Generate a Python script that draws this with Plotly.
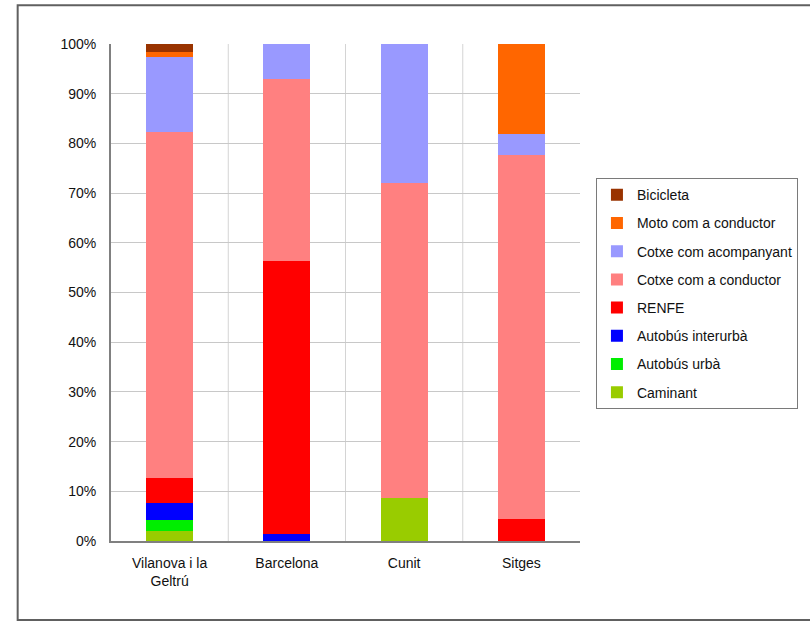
import plotly.graph_objects as go

# Municipalities (categories on the x axis)
municipis = ["Vilanova i la<br>Geltrú", "Barcelona", "Cunit", "Sitges"]

# Share of each transport mode per municipality (%), bottom to top of the stack
caminant = [2.0, 0.0, 8.6, 0.0]
autobus_urba = [2.2, 0.0, 0.0, 0.0]
autobus_interurba = [3.4, 1.5, 0.0, 0.0]
renfe = [5.1, 54.8, 0.0, 4.4]
cotxe_conductor = [69.6, 36.6, 63.4, 73.3]
cotxe_acompanyant = [15.1, 7.1, 28.0, 4.2]
moto_conductor = [1.0, 0.0, 0.0, 18.1]
bicicleta = [1.6, 0.0, 0.0, 0.0]

y_ticks = [0, 10, 20, 30, 40, 50, 60, 70, 80, 90, 100]
y_tick_labels = [f"{v}%" for v in y_ticks]

series = [
    ("Caminant", caminant, "#99CC00"),
    ("Autobús urbà", autobus_urba, "#00EE00"),
    ("Autobús interurbà", autobus_interurba, "#0000FF"),
    ("RENFE", renfe, "#FF0000"),
    ("Cotxe com a conductor", cotxe_conductor, "#FF8080"),
    ("Cotxe com acompanyant", cotxe_acompanyant, "#9999FF"),
    ("Moto com a conductor", moto_conductor, "#FF6600"),
    ("Bicicleta", bicicleta, "#993300"),
]

FONT = "Liberation Sans, Arial, sans-serif"

fig = go.Figure()
n = len(series)
for k, (name, vals, color) in enumerate(series):
    fig.add_trace(go.Bar(
        x=municipis, y=vals, name=name, legendgroup=name,
        legendrank=1000 - k,  # top of the stack listed first
        marker=dict(color=color, line=dict(width=0)),
        width=0.4,
    ))

# light separators between categories
shapes = []
for i in range(len(municipis) - 1):
    shapes.append(dict(type="line", xref="x", yref="paper",
                       x0=i + 0.5, x1=i + 0.5, y0=0, y1=1,
                       line=dict(color="#D4D4D4", width=1), layer="below"))
# outer frame around the whole chart
shapes.append(dict(type="rect", xref="paper", yref="paper",
                   x0=-0.199, x1=1.6, y0=-0.159, y1=1.078,
                   line=dict(color="#606060", width=2), layer="below"))

fig.update_layout(
    width=810, height=624,
    margin=dict(l=111, r=230, t=44, b=83),
    paper_bgcolor="white", plot_bgcolor="white",
    barmode="stack",
    bargap=0.6,
    font=dict(family=FONT, size=14, color="#111111"),
    shapes=shapes,
    legend=dict(
        x=1.034, y=0.73, xanchor="left", yanchor="top",
        traceorder="grouped", tracegroupgap=7,
        bordercolor="#7A7A7A", borderwidth=1,
        bgcolor="white",
        font=dict(family=FONT, size=14, color="#111111"),
        itemwidth=30,
    ),
    xaxis=dict(
        showgrid=False, showline=True, linecolor="#808080", linewidth=2,
        ticks="", tickfont=dict(size=14), ticklabelstandoff=8,
    ),
    yaxis=dict(
        range=[0, 100], tickmode="array", tickvals=y_ticks, ticktext=y_tick_labels,
        showgrid=True, gridcolor="#C8C8C8", gridwidth=1,
        showline=True, linecolor="#808080", linewidth=2,
        ticks="", tickfont=dict(size=14), zeroline=False, ticklabelstandoff=10,
    ),
)

fig.write_html("out.html")
